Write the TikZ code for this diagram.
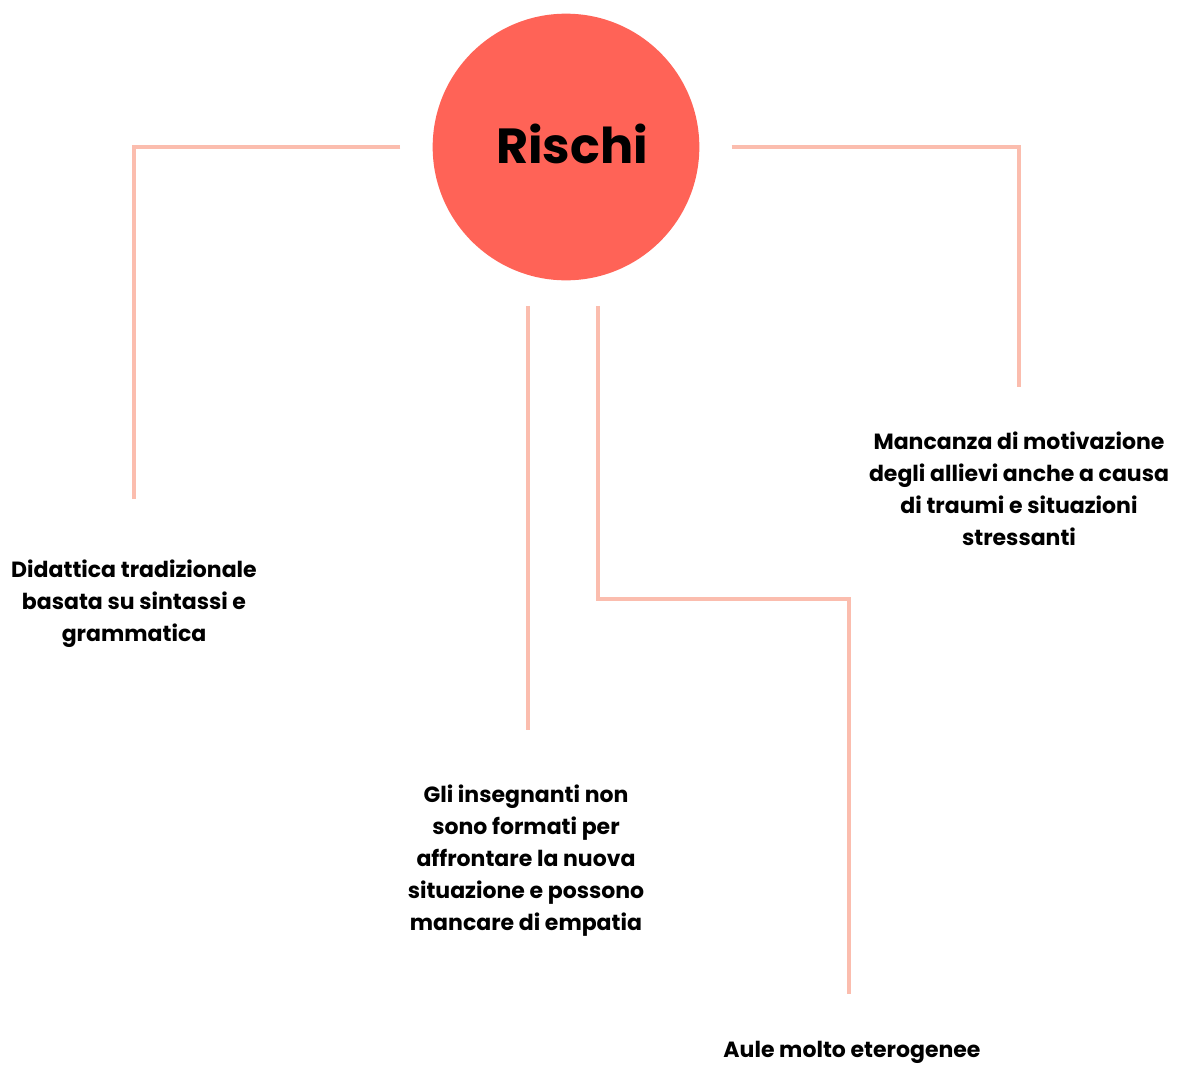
\documentclass[tikz,border=0pt]{standalone}
\usepackage{fontspec}
\setmainfont{Poppins}
\usetikzlibrary{positioning}
\definecolor{rischired}{HTML}{FF6357}
\definecolor{linkpink}{HTML}{FBBDAE}
\tikzset{
	link/.style={draw=linkpink, line width=2.5pt},
	risk/.style={font=\bfseries\fontsize{16.5}{24}\selectfont, align=center, inner sep=0pt},
}
\begin{document}
\begin{tikzpicture}[x=0.75pt,y=-0.75pt]
	\useasboundingbox (0,0) rectangle (1177,1064);
	\node[circle, fill=rischired, minimum size=200pt, inner sep=0pt] (rischi) at (566,147) {};
	\node[font=\bfseries\fontsize{37}{40}\selectfont, inner sep=0pt] (rtext) at (572,144) {Rischi};
	\node[risk, anchor=north] (did) at (134,560) {Didattica tradizionale\\basata su sintassi e\\grammatica};
	\node[risk, anchor=north] (ins) at (526,785) {Gli insegnanti non\\sono formati per\\affrontare la nuova\\situazione e possono\\mancare di empatia};
	\node[risk, anchor=north] (mot) at (1019,432) {Mancanza di motivazione\\degli allievi anche a causa\\di traumi e situazioni\\stressanti};
	\node[risk, anchor=north] (aule) at (852,1041) {Aule molto eterogenee};
	\coordinate (bend) at (720,599);
	% connectors
	\draw[link, shorten <=24pt, shorten >=46pt] (rischi.west) -| (did.north);
	\draw[link, shorten <=24pt, shorten >=34pt] (rischi.east) -| (mot.north);
	\draw[link, shorten <=19pt, shorten >=41pt] (rischi.south -| 528,0) -- (528,0 |- ins.north);
	\draw[link, shorten <=19pt, shorten >=35pt] ([xshift=24pt]rischi.south) |- (bend) -| (849,0 |- aule.north);
\end{tikzpicture}
\end{document}
